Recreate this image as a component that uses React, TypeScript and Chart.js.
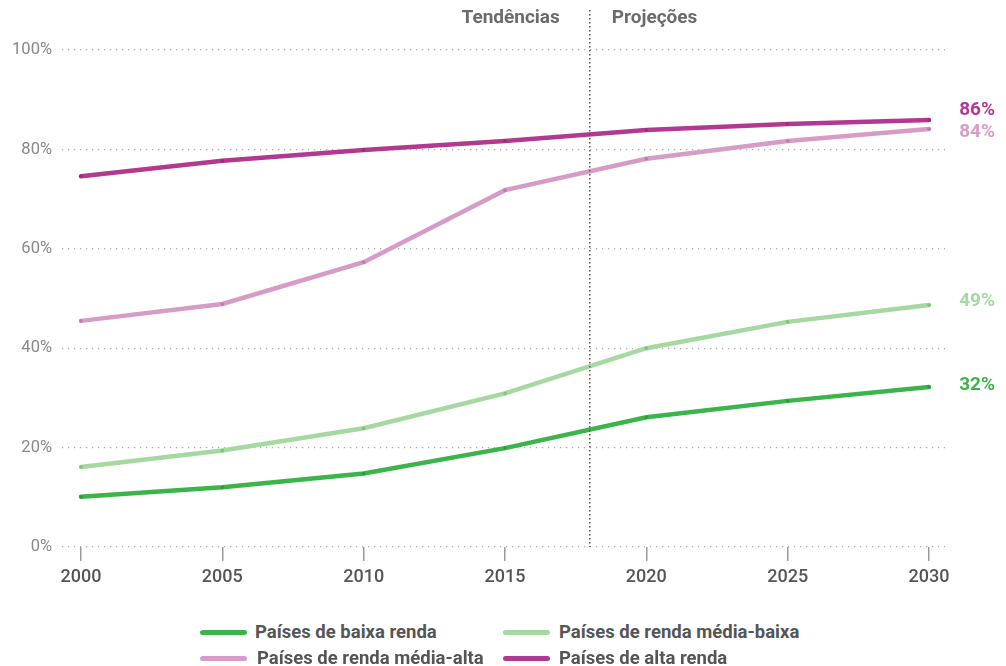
import React, { useEffect, useRef } from "react";
import { Chart, registerables } from "chart.js";

Chart.register(...registerables);

const years = [2000, 2005, 2010, 2015, 2020, 2025, 2030];
const baixa = [10.1, 12.0, 14.8, 19.9, 26.1, 29.4, 32.2];
const mediaBaixa = [16.1, 19.4, 23.9, 30.9, 40.0, 45.3, 48.7];
const mediaAlta = [45.5, 48.9, 57.3, 71.8, 78.1, 81.7, 84.1];
const alta = [74.6, 77.7, 79.9, 81.7, 83.9, 85.1, 85.9];
const endLabels = ["32%", "49%", "84%", "86%"];
const seriesNames = [
  "Países de baixa renda",
  "Países de renda média-baixa",
  "Países de renda média-alta",
  "Países de alta renda",
];
const yTicks = [0, 20, 40, 60, 80, 100];
const splitYear = 2018;
const phaseLabels = ["Tendências", "Projeções"];

const COLORS = ["#3bb54a", "#a6d8a1", "#d69cc5", "#b2398f"];
const POINT_COLORS = ["#2f9a3c", "#7fc27a", "#c278ac", "#9a2c7a"];
const LABEL_OFFSETS = [-2, -4, 3, -10];
const FONT = "Roboto, 'DejaVu Sans', sans-serif";

const overlayPlugin = {
  id: "overlay",
  afterDatasetsDraw(chart: any) {
    const { ctx, scales, chartArea } = chart;
    const x = scales.x;
    const y = scales.y;
    const sx = x.getPixelForValue(splitYear);
    ctx.save();
    ctx.strokeStyle = "#555";
    ctx.lineWidth = 1.5;
    ctx.setLineDash([1.5, 2.5]);
    ctx.beginPath();
    ctx.moveTo(sx, 10);
    ctx.lineTo(sx, chartArea.bottom);
    ctx.stroke();
    ctx.setLineDash([]);
    ctx.font = `bold 19px ${FONT}`;
    ctx.fillStyle = "#6b6b6b";
    ctx.textBaseline = "middle";
    ctx.textAlign = "right";
    ctx.fillText(phaseLabels[0], sx - 30, 18);
    ctx.textAlign = "left";
    ctx.fillText(phaseLabels[1], sx + 22, 18);
    ctx.font = `bold 19px ${FONT}`;
    ctx.textAlign = "right";
    chart.data.datasets.forEach((ds: any, i: number) => {
      const last = ds.data[ds.data.length - 1];
      const py = y.getPixelForValue(last.y) + LABEL_OFFSETS[i];
      ctx.fillStyle = COLORS[i];
      ctx.fillText(endLabels[i], 995, py);
    });
    ctx.restore();
  },
};

export default function App() {
  const ref = useRef<HTMLCanvasElement>(null);
  useEffect(() => {
    if (!ref.current) return;
    const allSeries = [baixa, mediaBaixa, mediaAlta, alta];
    const chart = new Chart(ref.current, {
      type: "line",
      data: {
        datasets: allSeries.map((s, i) => ({
          label: seriesNames[i],
          data: s.map((v, j) => ({ x: years[j], y: v })),
          borderColor: COLORS[i],
          backgroundColor: COLORS[i],
          borderWidth: 4.5,
          tension: 0,
          pointRadius: 1.8,
          pointBorderWidth: 0,
          pointBackgroundColor: POINT_COLORS[i],
          borderCapStyle: "round",
          order: 4 - i,
        })),
      },
      options: {
        responsive: false,
        animation: false,
        layout: { padding: { top: 50, right: 61, left: 0, bottom: 0 } },
        plugins: { legend: { display: false }, tooltip: { enabled: false } },
        scales: {
          x: {
            type: "linear",
            min: 1999.328,
            max: 2030.566,
            afterBuildTicks: (scale: any) => {
              scale.ticks = years.map((v) => ({ value: v }));
            },
            afterFit: (scale: any) => {
              scale.height = 53;
            },
            border: { display: false },
            grid: {
              drawOnChartArea: false,
              drawTicks: true,
              tickLength: 14,
              color: "#999",
              lineWidth: 1.5,
            },
            ticks: {
              padding: 6,
              color: "#555",
              font: { family: FONT, size: 18, weight: "500" },
              callback: (v: any) => String(v),
            },
          },
          y: {
            min: 0,
            max: 100,
            afterBuildTicks: (scale: any) => {
              scale.ticks = yTicks.map((v) => ({ value: v }));
            },
            afterFit: (scale: any) => {
              scale.width = 62;
            },
            border: { display: false, dash: [1.2, 4.8] },
            grid: {
              drawTicks: false,
              color: "#aaa",
              lineWidth: 1.2,
            },
            ticks: {
              padding: 10,
              color: "#888",
              font: { family: FONT, size: 16.5 },
              callback: (v: any) => v + "%",
            },
          },
        },
      },
      plugins: [overlayPlugin],
    } as any);
    return () => chart.destroy();
  }, []);

  const legendItem = (i: number, left: number, top: number, textLeft: number) => (
    <div key={i} style={{ position: "absolute", left, top, height: 22, display: "flex", alignItems: "center" }}>
      <div style={{ width: 47, height: 5, borderRadius: 3, background: COLORS[i] }} />
      <span
        style={{
          marginLeft: textLeft - left - 47,
          fontFamily: FONT,
          fontWeight: "bold",
          fontSize: 18.5,
          color: "#555",
          whiteSpace: "nowrap",
        }}
      >
        {seriesNames[i]}
      </span>
    </div>
  );

  return (
    <div style={{ position: "fixed", left: 0, top: 0, width: 1006, height: 666, background: "#fff" }}>
      <canvas ref={ref} width={1006} height={600} style={{ display: "block" }} />
      {legendItem(0, 200, 621, 255)}
      {legendItem(1, 503, 621, 559)}
      {legendItem(2, 200, 647, 257)}
      {legendItem(3, 503, 647, 559)}
    </div>
  );
}
